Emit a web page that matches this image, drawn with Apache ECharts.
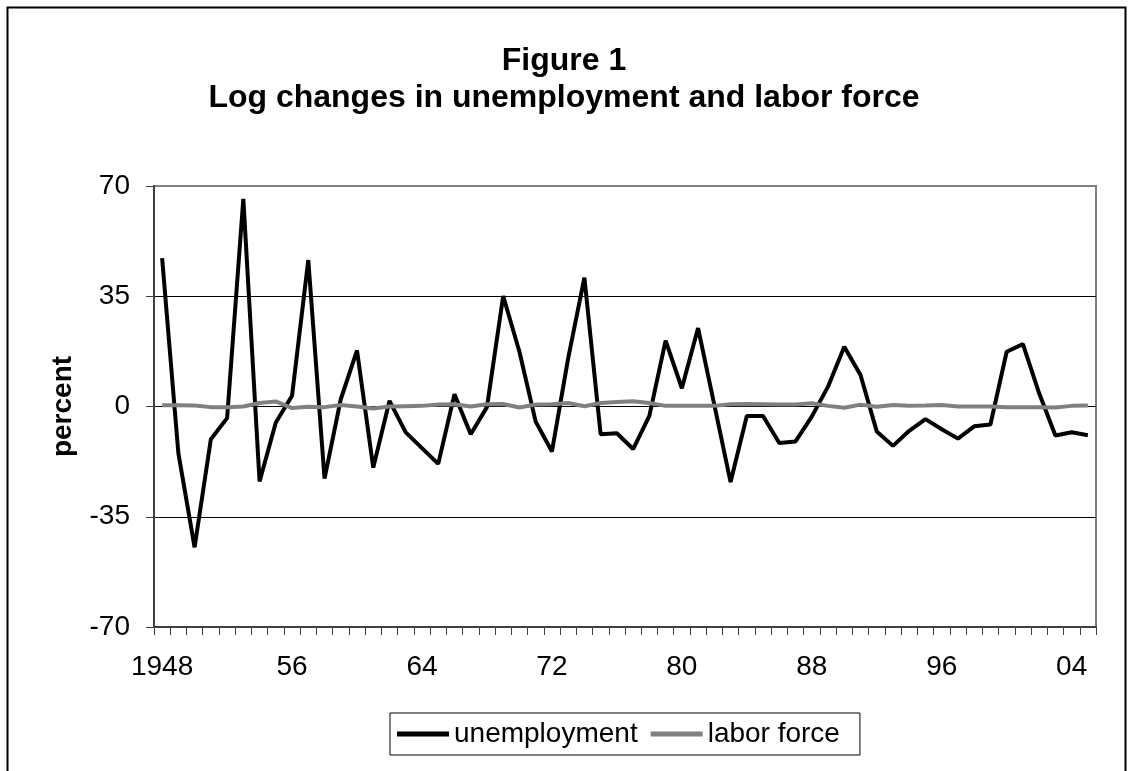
<!DOCTYPE html>
<html>
<head>
<meta charset="utf-8">
<script src="https://cdn.jsdelivr.net/npm/echarts@6/dist/echarts.min.js"></script>
<style>
html,body{margin:0;padding:0;background:#fff;}
#chart{width:1128px;height:771px;}
</style>
</head>
<body>
<div id="chart"></div>
<script>
var categories = ['1948','49','50','51','52','53','54','55','56','57','58','59','60','61','62','63','64','65','66','67','68','69','70','71','72','73','74','75','76','77','78','79','80','81','82','83','84','85','86','87','88','89','90','91','92','93','94','95','96','97','98','99','00','01','02','03','04','05'];
var unemployment = [47.1,-14.8,-44.7,-10.4,-3.7,65.9,-23.8,-5.1,3.4,46.5,-22.9,2.3,17.8,-19.4,1.8,-8.2,-13.2,-18.2,3.9,-8.8,-0.2,35.1,17.4,-4.8,-14.3,15.3,40.9,-8.8,-8.5,-13.5,-3.0,20.9,5.8,24.9,0.5,-24.0,-3.0,-3.0,-11.6,-11.1,-3.2,6.3,19.0,10.0,-7.9,-12.5,-7.7,-4.0,-7.2,-10.2,-6.3,-5.7,17.4,19.8,4.2,-9.2,-8.2,-9.1];
var laborForce = [0.4,0.4,0.3,-0.2,-0.2,0.0,1.1,1.6,-0.5,-0.1,-0.2,0.5,0.0,-0.6,0.0,0.1,0.2,0.6,0.7,0.0,0.7,0.8,-0.3,0.6,0.7,1.1,0.1,1.1,1.4,1.7,1.1,0.2,0.2,0.2,0.2,0.7,0.8,0.7,0.6,0.6,1.0,0.2,-0.4,0.6,-0.1,0.5,0.2,0.3,0.5,0.0,0.0,0.0,-0.2,-0.2,-0.2,-0.3,0.2,0.3];
var yTicks = [-70, -35, 0, 35, 70];
var titleLines = ['Figure 1', 'Log changes in unemployment and labor force'];
var seriesNames = ['unemployment', 'labor force'];

var chart = echarts.init(document.getElementById('chart'), null, {renderer: 'canvas'});
var FONT = 'Liberation Sans, Arial, sans-serif';
var titleStyle = {fontFamily: FONT, fontSize: 32, fontWeight: 'bold', color: '#000', lineHeight: 37};
chart.setOption({
  backgroundColor: '#fff',
  animation: false,
  graphic: [{
    type: 'rect', left: 5, top: 5, z: -1,
    shape: {x: 0, y: 0, width: 1118, height: 800},
    style: {fill: 'none', stroke: '#000', lineWidth: 2}
  }],
  title: [{
    text: titleLines[0], left: 'center', top: 43, padding: 0,
    textStyle: titleStyle
  }, {
    text: titleLines[1], left: 'center', top: 80, padding: 0,
    textStyle: titleStyle
  }],
  legend: {
    data: seriesNames,
    left: 390, top: 713,
    orient: 'horizontal',
    icon: 'rect',
    itemWidth: 52, itemHeight: 5,
    itemGap: 13,
    borderColor: '#000', borderWidth: 1,
    padding: [7, 20, 7, 7],
    textStyle: {fontFamily: FONT, fontSize: 28, color: '#000'}
  },
  grid: {
    left: 154, right: 32, top: 186, bottom: 144,
    show: true, borderColor: '#808080', borderWidth: 2, backgroundColor: 'transparent'
  },
  xAxis: {
    type: 'category',
    data: categories,
    boundaryGap: true,
    axisLine: {show: true, onZero: false, lineStyle: {color: '#404040', width: 2}},
    axisTick: {show: true, interval: 0, length: 8, lineStyle: {color: '#404040', width: 1}},
    axisLabel: {interval: 7, margin: 26, fontFamily: FONT, fontSize: 28, color: '#000'},
    splitLine: {show: false}
  },
  yAxis: {
    type: 'value',
    min: yTicks[0], max: yTicks[yTicks.length - 1], interval: 35,
    name: 'percent',
    nameLocation: 'middle',
    nameRotate: 90,
    nameGap: 77,
    nameTextStyle: {fontFamily: FONT, fontSize: 28, fontWeight: 'bold', color: '#000'},
    axisLine: {show: true, onZero: false, lineStyle: {color: '#404040', width: 2}},
    axisTick: {show: true, length: 8, lineStyle: {color: '#404040', width: 1}},
    axisLabel: {margin: 24, fontFamily: FONT, fontSize: 28, color: '#000'},
    splitLine: {show: true, lineStyle: {color: ['#000', '#000', '#000', '#000', '#808080'], width: 1}}
  },
  series: [{
    name: seriesNames[0], type: 'line', data: unemployment,
    symbol: 'none', showSymbol: false,
    lineStyle: {color: '#000', width: 4},
    itemStyle: {color: '#000'}, z: 3
  }, {
    name: seriesNames[1], type: 'line', data: laborForce,
    symbol: 'none', showSymbol: false,
    lineStyle: {color: '#808080', width: 4},
    itemStyle: {color: '#808080'}, z: 4
  }]
});
</script>
</body>
</html>
